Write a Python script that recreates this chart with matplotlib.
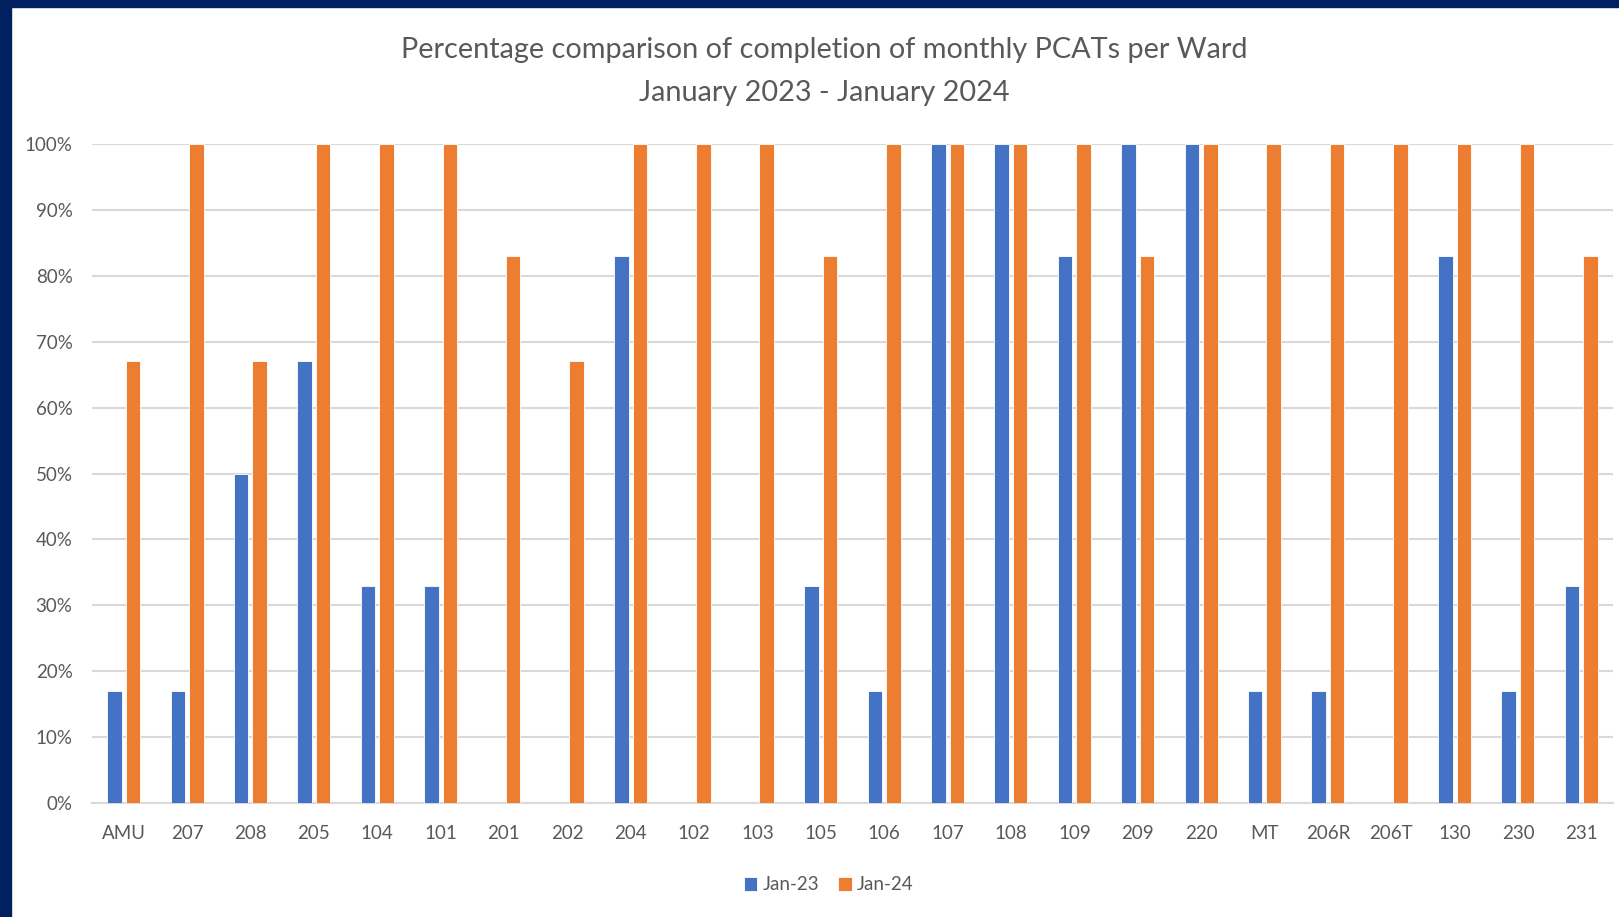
import matplotlib.pyplot as plt
import numpy as np
from matplotlib.patches import Rectangle

# data
wards = ["AMU", "207", "208", "205", "104", "101", "201", "202", "204", "102", "103", "105",
         "106", "107", "108", "109", "209", "220", "MT", "206R", "206T", "130", "230", "231"]
jan23 = [17, 17, 50, 67, 33, 33, 0, 0, 83, 0, 0, 33,
         17, 100, 100, 83, 100, 100, 17, 17, 0, 83, 17, 33]
jan24 = [67, 100, 67, 100, 100, 100, 83, 67, 100, 100, 100, 83,
         100, 100, 100, 100, 83, 100, 100, 100, 100, 100, 100, 83]

plt.rcParams['font.family'] = ['Lato', 'DejaVu Sans']
grey = "#595959"

fig = plt.figure(figsize=(16.19, 9.17), dpi=100)
# navy frame on left and top
fig.patches.append(Rectangle((0, 0), 11 / 1619, 1, transform=fig.transFigure, color="#002060", zorder=0))
fig.patches.append(Rectangle((0, 1 - 7 / 917), 1, 7 / 917, transform=fig.transFigure, color="#002060", zorder=0))

ax = fig.add_axes([92 / 1619, 1 - 803 / 917, (1613 - 92) / 1619, (803 - 144) / 917])
x = np.arange(len(wards))
w = 0.23
ax.bar(x - 0.146, jan23, w, color="#4472C4", edgecolor="white", linewidth=0.6, label="Jan-23", zorder=3)
ax.bar(x + 0.146, jan24, w, color="#ED7D31", edgecolor="white", linewidth=0.6, label="Jan-24", zorder=3)

ax.set_xlim(-0.5, len(wards) - 0.5)
ax.set_ylim(0, 100)
ax.set_yticks(range(0, 101, 10))
ax.set_yticklabels([f"{v}%" for v in range(0, 101, 10)])
ax.set_xticks(x)
ax.set_xticklabels(wards)
ax.tick_params(axis="both", length=0, labelsize=13.5, labelcolor=grey)
ax.tick_params(axis="x", pad=16)
ax.tick_params(axis="y", pad=14)
ax.grid(axis="y", color="#D9D9D9", linewidth=1.5, zorder=0)
for s in ["top", "right", "left"]:
    ax.spines[s].set_visible(False)
ax.spines["bottom"].set_color("#D9D9D9")
ax.spines["bottom"].set_linewidth(1.5)

fig.text(824 / 1619, 1 - 50 / 917, "Percentage comparison of completion of monthly PCATs per Ward",
         ha="center", va="center", fontsize=20.8, color=grey)
fig.text(824 / 1619, 1 - 93 / 917, "January 2023 - January 2024",
         ha="center", va="center", fontsize=20.8, color=grey)

fig.legend(loc="center", bbox_to_anchor=(829 / 1619, 1 - 885 / 917), ncol=2, frameon=False,
           fontsize=13.5, labelcolor=grey, handlelength=0.7, handleheight=0.7,
           handletextpad=0.3, columnspacing=1.0)

fig.savefig("out.png", dpi=100)
